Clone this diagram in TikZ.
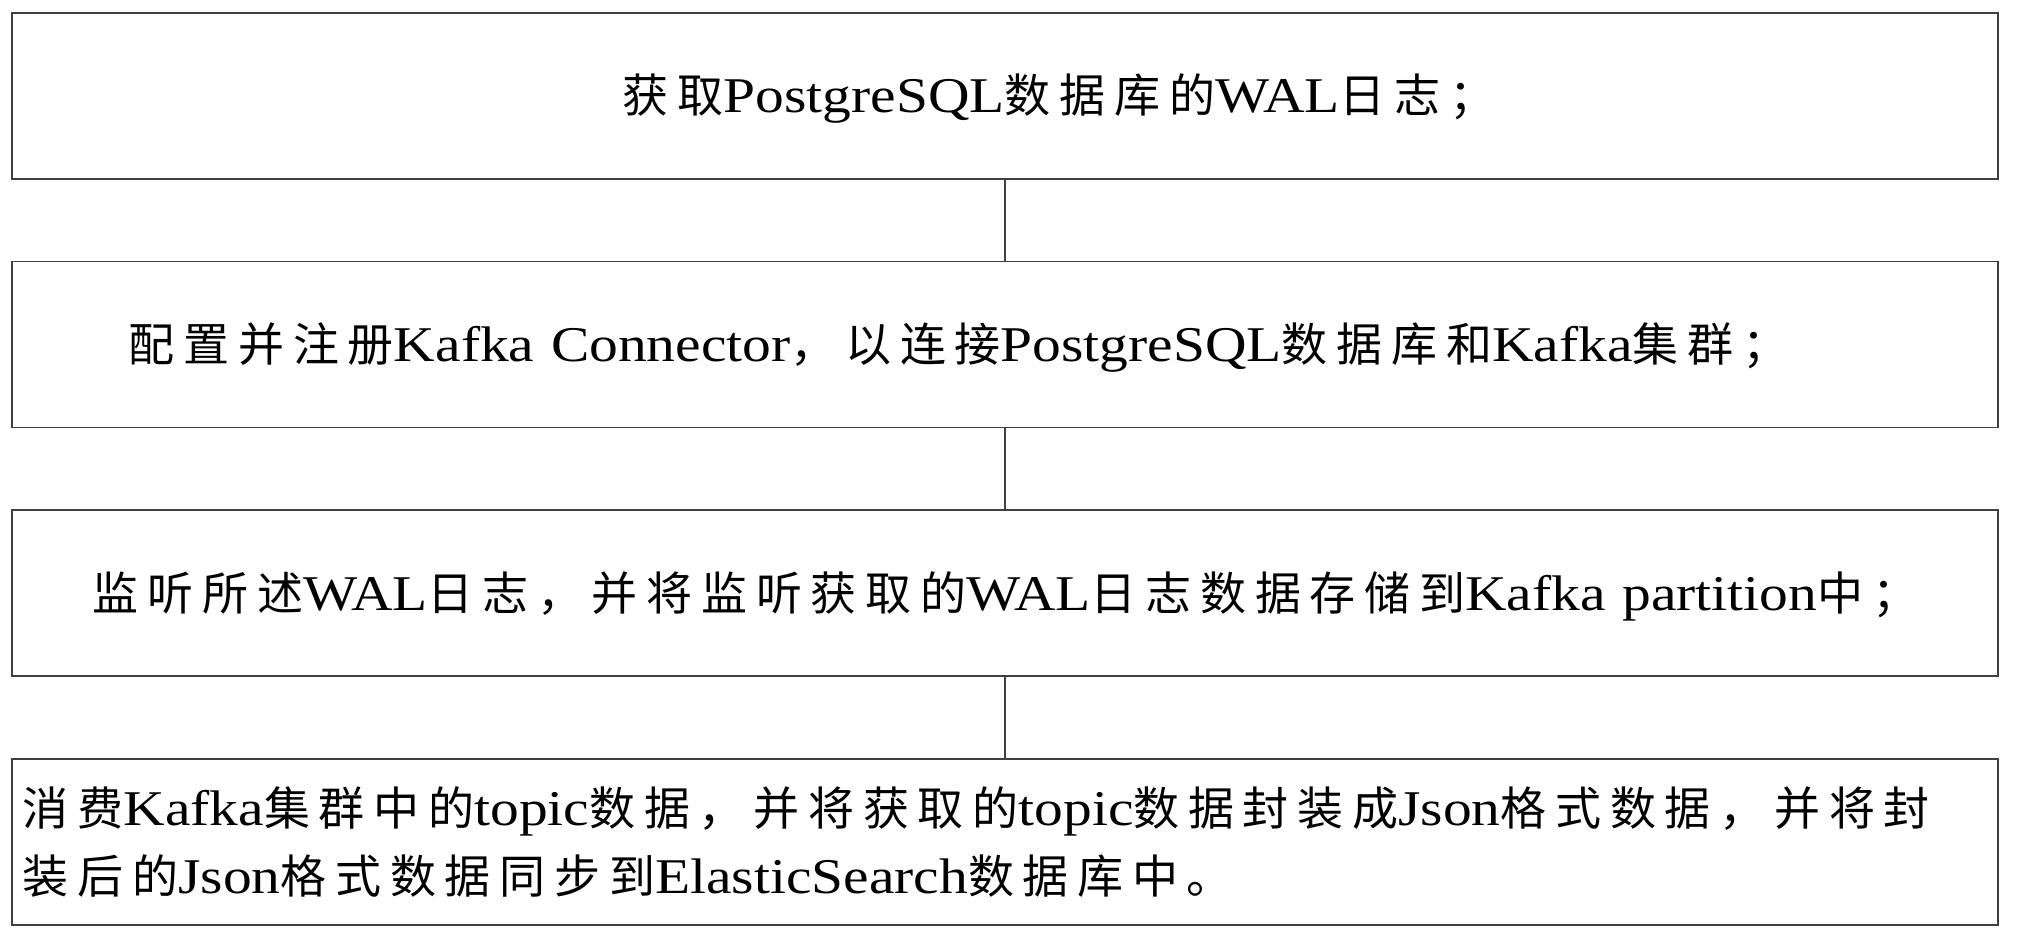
\documentclass[tikz,border=0pt]{standalone}
\usepackage{fontspec}
\usepackage{tikz}
\usetikzlibrary{positioning}
\setmainfont{Liberation Serif}[FakeStretch=1.15]
\newfontfamily\cjkfont{Noto Sans CJK SC}[Scale=0.92,LetterSpace=19]
\newcommand{\zh}[1]{{\cjkfont #1}}
\definecolor{gray25}{RGB}{64,64,64}

\begin{document}
\begin{tikzpicture}
          [x=1pt,y=1pt,
            every node/.style={font=\fontsize{50pt}{68pt}\selectfont},
            stepbox/.style={rectangle,draw=gray25,line width=1.6pt,minimum height=166pt,
              text width=1986pt,inner xsep=0pt,inner ysep=0pt,align=left},
            oneline/.style={text depth=0pt,text height=34pt},
            link/.style={draw=gray25,line width=1.4pt},
            node distance=81pt,
          ]
          \useasboundingbox (0,0) rectangle (2018,-939);

          \node[stepbox,oneline] (b1) at (1005,-96)
            {\hspace*{611pt}\zh{获取}PostgreSQL\zh{数据库的}WAL\zh{日志；}};
          \node[stepbox,oneline,below=of b1] (b2)
            {\hspace*{117pt}\zh{配置并注册}Kafka Connector\zh{，以连接}PostgreSQL\zh{数据库和}Kafka\zh{集群；}};
          \node[stepbox,oneline,below=of b2] (b3)
            {\hspace*{81pt}\zh{监听所述}WAL\zh{日志，并将监听获取的}WAL\zh{日志数据存储到}Kafka partition\zh{中；}};
          \node[stepbox,below=of b3] (b4)
            {\hspace*{11pt}\zh{消费}Kafka\zh{集群中的}topic\zh{数据，并将获取的}topic\zh{数据封装成}Json\zh{格式数据，并将封}\\
             \hspace*{11pt}\zh{装后的}Json\zh{格式数据同步到}ElasticSearch\zh{数据库中。}};

          \draw[link] (b1) -- (b2);
          \draw[link] (b2) -- (b3);
          \draw[link] (b3) -- (b4);
        \end{tikzpicture}
\end{document}
